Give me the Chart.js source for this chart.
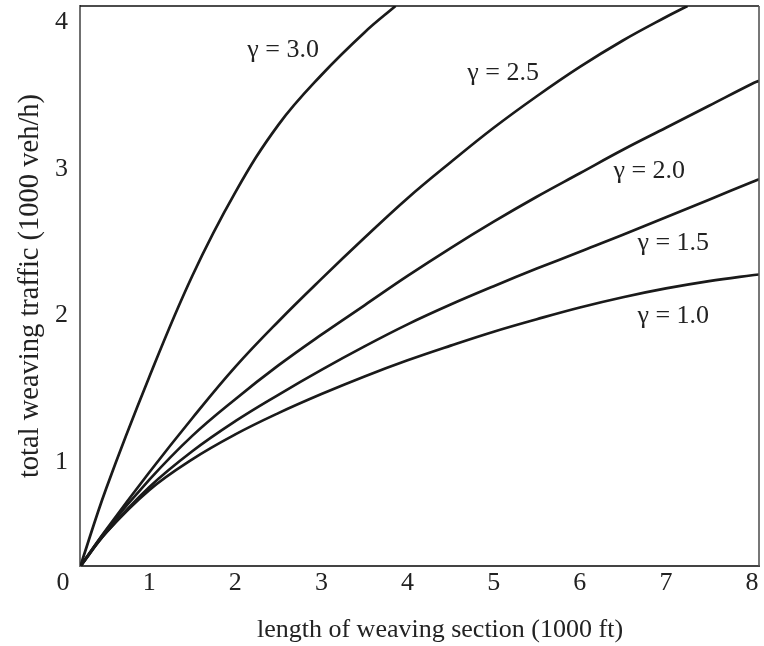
<!DOCTYPE html>
<html><head><meta charset="utf-8">
<script src="https://cdn.jsdelivr.net/npm/chart.js@4.4.1/dist/chart.umd.min.js"></script>
<style>html,body{margin:0;padding:0;background:#fff;overflow:hidden}</style>
</head><body>
<canvas id="c" width="764" height="646"></canvas>
<script>
// ---- data ----
const seriesNames = ['γ = 3.0', 'γ = 2.5', 'γ = 2.0', 'γ = 1.5', 'γ = 1.0'];

const lengthG30 = [0.2, 0.5, 1.0, 1.5, 2.0, 2.5, 3.0, 3.5, 3.86];
const trafficG30 = [0.29, 0.82, 1.58, 2.27, 2.84, 3.30, 3.64, 3.93, 4.11];

const lengthG25 = [0.2, 0.5, 1, 1.5, 2, 2.5, 3, 3.5, 4, 4.5, 5, 5.5, 6, 6.5, 7, 7.25];
const trafficG25 = [0.29, 0.54, 0.93, 1.30, 1.65, 1.96, 2.25, 2.53, 2.80, 3.045, 3.28, 3.495, 3.695, 3.875, 4.035, 4.11];

const lengthAll = [0.2, 0.5, 1, 1.5, 2, 2.5, 3, 3.5, 4, 4.5, 5, 5.5, 6, 6.5, 7, 7.5, 8, 8.08];
const trafficG20 = [0.29, 0.535, 0.88, 1.18, 1.43, 1.66, 1.87, 2.07, 2.27, 2.46, 2.64, 2.81, 2.97, 3.13, 3.28, 3.43, 3.58, 3.60];
const trafficG15 = [0.29, 0.52, 0.83, 1.075, 1.28, 1.46, 1.63, 1.79, 1.94, 2.075, 2.20, 2.32, 2.435, 2.55, 2.67, 2.79, 2.91, 2.93];
const trafficG10 = [0.29, 0.52, 0.81, 1.02, 1.19, 1.335, 1.465, 1.585, 1.695, 1.795, 1.89, 1.975, 2.055, 2.125, 2.185, 2.235, 2.275, 2.28];

const xTickValues = [0, 1, 2, 3, 4, 5, 6, 7, 8];
const yTickValues = [1, 2, 3, 4];

const xTitle = 'length of weaving section (1000 ft)';
const yTitle = 'total weaving traffic (1000 veh/h)';

// where each curve label sits (data units)
const labelAtX = [2.555, 5.11, 6.806, 7.085, 7.085];
const labelAtY = [3.763, 3.606, 2.938, 2.447, 1.950];

// ---- chart ----
const FONT = '"Liberation Serif", "Times New Roman", Times, serif';
const INK = '#1a1a1a';
const pts = (xs, ys) => xs.map((x, i) => ({x: x, y: ys[i]}));

const lineDs = (name, data) => ({
  label: name, data: data, borderColor: INK, borderWidth: 2.7,
  pointRadius: 0, fill: false, tension: 0.4
});

const extras = {
  id: 'extras',
  afterDraw(chart) {
    const {ctx, chartArea: a, scales: {x, y}} = chart;
    ctx.save();
    ctx.lineWidth = 1.6;
    ctx.strokeStyle = '#111';
    ctx.beginPath(); ctx.moveTo(a.left, a.top); ctx.lineTo(a.right, a.top); ctx.stroke();
    ctx.strokeStyle = '#555';
    ctx.beginPath(); ctx.moveTo(a.right, a.top); ctx.lineTo(a.right, a.bottom); ctx.stroke();
    ctx.fillStyle = '#222';
    ctx.font = '26px ' + FONT;
    ctx.textAlign = 'center';
    ctx.textBaseline = 'alphabetic';
    seriesNames.forEach((n, i) => {
      ctx.fillText(n, x.getPixelForValue(labelAtX[i]), y.getPixelForValue(labelAtY[i]));
    });
    ctx.textBaseline = 'middle';
    ctx.fillText(xTitle, 440, 630);
    ctx.restore();
  }
};

new Chart(document.getElementById('c'), {
  type: 'line',
  data: {
    datasets: [
      lineDs(seriesNames[0], pts(lengthG30, trafficG30)),
      lineDs(seriesNames[1], pts(lengthG25, trafficG25)),
      lineDs(seriesNames[2], pts(lengthAll, trafficG20)),
      lineDs(seriesNames[3], pts(lengthAll, trafficG15)),
      lineDs(seriesNames[4], pts(lengthAll, trafficG10))
    ]
  },
  options: {
    responsive: false,
    animation: false,
    layout: {padding: {top: 6, right: 5, left: 0, bottom: 0}},
    plugins: {legend: {display: false}, tooltip: {enabled: false}},
    scales: {
      x: {
        type: 'linear', min: 0.197, max: 8.08,
        afterBuildTicks: s => { s.ticks = xTickValues.map(v => ({value: v})); },
        afterFit: s => { s.height = 80; s.paddingLeft = 0; s.paddingRight = 0; },
        grid: {display: false, drawTicks: false},
        border: {display: true, color: '#444', width: 2},
        ticks: {autoSkip: false, maxRotation: 0, padding: 2, color: '#222',
                font: {family: FONT, size: 26}}
      },
      y: {
        type: 'linear', min: 0.293, max: 4.11,
        afterBuildTicks: s => { s.ticks = yTickValues.map(v => ({value: v})); },
        afterFit: s => { s.width = 80; s.paddingTop = 0; s.paddingBottom = 0; },
        grid: {display: false, drawTicks: false},
        border: {display: true, color: '#707070', width: 2},
        ticks: {autoSkip: false, padding: 12, color: '#222',
                font: {family: FONT, size: 26}},
        title: {display: true, text: yTitle, color: '#222',
                font: {family: FONT, size: 28.5}, padding: {top: 13, bottom: 0}}
      }
    }
  },
  plugins: [extras]
});
</script>
</body></html>
